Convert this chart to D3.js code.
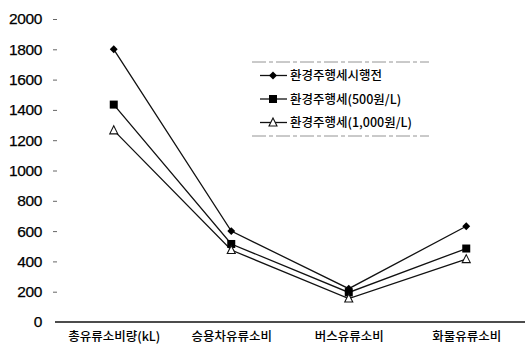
<!DOCTYPE html>
<html>
<head>
<meta charset="utf-8">
<script src="https://cdn.jsdelivr.net/npm/d3@7"></script>
<style>
  html, body { margin: 0; padding: 0; background: #fff; }
  svg { display: block; }
</style>
</head>
<body>
<svg id="chart" width="525" height="351"></svg>
<script>
// Fuel consumption by vehicle type under the environment/transport tax scenarios
const categories = ["총유류소비량(kL)", "승용차유류소비", "버스유류소비", "화물유류소비"];
const seriesNames = ["환경주행세시행전", "환경주행세(500원/L)", "환경주행세(1,000원/L)"];
const beforeTax = [1800, 600, 220, 632];
const tax500 = [1435, 515, 195, 485];
const tax1000 = [1265, 475, 155, 415];
const yTicks = [0, 200, 400, 600, 800, 1000, 1200, 1400, 1600, 1800, 2000];

const series = [
  { name: seriesNames[0], values: beforeTax, marker: "diamond" },
  { name: seriesNames[1], values: tax500, marker: "square" },
  { name: seriesNames[2], values: tax1000, marker: "triangle" }
];

const svg = d3.select("#chart");
const x = d3.scalePoint().domain(categories).range([55, 525]).padding(0.5);
const y = d3.scaleLinear().domain([0, 2000]).range([322, 19]);

const numFont = "'Liberation Sans', Arial, sans-serif";
const krFont = "'Noto Sans CJK KR', sans-serif";

// y axis: labels with short tick dashes, no axis line
const yAxis = svg.append("g").attr("transform", "translate(57,0)")
  .call(d3.axisLeft(y).tickValues(yTicks).tickSize(4).tickPadding(11).tickFormat(d3.format("d")));
yAxis.select(".domain").remove();
yAxis.selectAll(".tick line").attr("stroke", "#666").attr("stroke-width", 1);
yAxis.selectAll(".tick line").filter(d => d === 0).remove();
yAxis.selectAll("text").attr("font-family", numFont).attr("font-size", 15.5)
  .attr("fill", "#000").attr("letter-spacing", "-0.4px")
  .attr("stroke", "#000").attr("stroke-width", 0.25);

// baseline
svg.append("line").attr("x1", 55).attr("x2", 525).attr("y1", y(0)).attr("y2", y(0))
  .attr("stroke", "#111").attr("stroke-width", 1.3);

// category labels
const xAxis = svg.append("g").attr("transform", `translate(0,${y(0)})`)
  .call(d3.axisBottom(x).tickSize(0).tickPadding(10));
xAxis.select(".domain").remove();
xAxis.selectAll("text").attr("font-family", krFont).attr("font-size", 12.5)
  .attr("font-weight", 500).attr("fill", "#000");

// lines
const line = d3.line().x((d, i) => x(categories[i])).y(d => y(d));
series.forEach(s => {
  svg.append("path").datum(s.values).attr("d", line)
    .attr("fill", "none").attr("stroke", "#111").attr("stroke-width", 1.3);
});

// markers
function drawMarker(g, type, cx, cy) {
  if (type === "diamond") {
    g.append("path").attr("d", d3.symbol(d3.symbolDiamond2, 40)())
      .attr("transform", `translate(${cx},${cy})`).attr("fill", "#000");
  } else if (type === "square") {
    g.append("rect").attr("x", cx - 4).attr("y", cy - 4).attr("width", 8).attr("height", 8).attr("fill", "#000");
  } else {
    g.append("path").attr("d", `M${cx},${cy - 4.5}L${cx + 4},${cy + 3.5}L${cx - 4},${cy + 3.5}Z`)
      .attr("fill", "#fff").attr("stroke", "#111").attr("stroke-width", 1.1);
  }
}
const markers = svg.append("g");
series.forEach(s => {
  s.values.forEach((v, i) => drawMarker(markers, s.marker, x(categories[i]), y(v)));
});

// legend: white panel framed by faint top and bottom rules
const legend = svg.append("g");
legend.append("rect").attr("x", 252).attr("y", 62).attr("width", 177).attr("height", 74).attr("fill", "#fff");
[62, 136].forEach(ry => {
  legend.append("line").attr("x1", 252).attr("x2", 429).attr("y1", ry).attr("y2", ry)
    .attr("stroke", "#888").attr("stroke-width", 0.9).attr("stroke-dasharray", "14,3,4,3");
});
series.forEach((s, i) => {
  const ly = 75.5 + i * 23.5;
  legend.append("line").attr("x1", 260).attr("x2", 287).attr("y1", ly).attr("y2", ly)
    .attr("stroke", "#111").attr("stroke-width", 1.3);
  drawMarker(legend, s.marker, 273, ly);
  legend.append("text").attr("x", 290).attr("y", ly).attr("dy", "0.36em")
    .attr("font-family", krFont).attr("font-size", 12.5).attr("font-weight", 500)
    .attr("fill", "#000").text(s.name);
});
</script>
</body>
</html>
